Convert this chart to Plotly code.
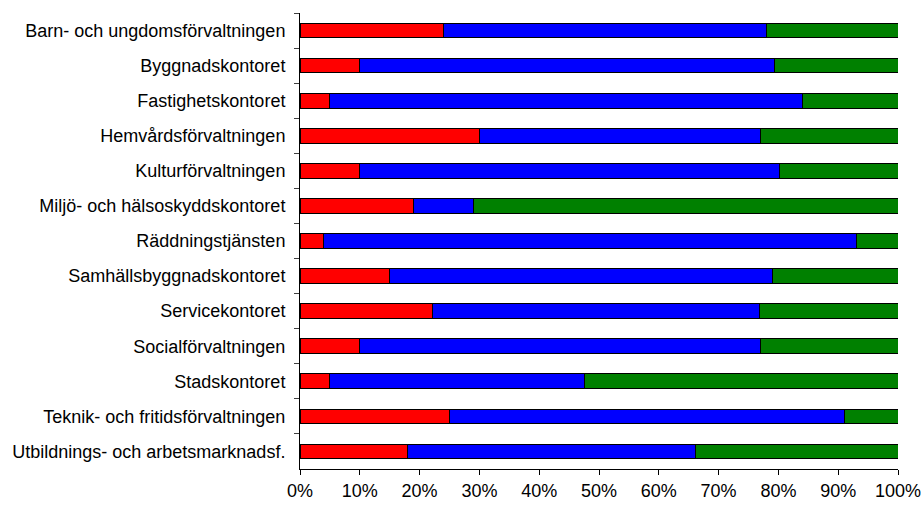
import plotly.graph_objects as go

categories = [
    "Barn- och ungdomsförvaltningen",
    "Byggnadskontoret",
    "Fastighetskontoret",
    "Hemvårdsförvaltningen",
    "Kulturförvaltningen",
    "Miljö- och hälsoskyddskontoret",
    "Räddningstjänsten",
    "Samhällsbyggnadskontoret",
    "Servicekontoret",
    "Socialförvaltningen",
    "Stadskontoret",
    "Teknik- och fritidsförvaltningen",
    "Utbildnings- och arbetsmarknadsf.",
]
red_vals = [24, 10, 5, 30, 10, 19, 4, 15, 22.2, 10, 5, 25, 18]
blue_vals = [54, 69.4, 79, 47, 70.2, 10, 89.1, 64, 54.7, 67, 42.5, 66.1, 48.1]
green_vals = [22, 20.6, 16, 23, 19.8, 71, 6.9, 21, 23.1, 23, 52.5, 8.9, 33.9]
x_ticks = [0, 10, 20, 30, 40, 50, 60, 70, 80, 90, 100]
x_tick_text = [f"{v}%" for v in x_ticks]

fig = go.Figure()
for vals, col in [(red_vals, "#ff0000"), (blue_vals, "#0000ff"), (green_vals, "#008000")]:
    fig.add_trace(go.Bar(
        y=categories, x=vals, orientation="h",
        marker=dict(color=col, line=dict(color="black", width=1)),
        width=0.42, showlegend=False, hoverinfo="skip",
    ))

fig.update_layout(
    barmode="stack",
    width=923, height=506,
    margin=dict(l=299.5, r=25, t=13, b=37, pad=0),
    paper_bgcolor="white", plot_bgcolor="white",
    font=dict(family="Liberation Sans, Arial, sans-serif", size=18, color="black"),
)
fig.update_xaxes(
    range=[0, 100], tickvals=x_ticks, ticktext=x_tick_text,
    showgrid=False, zeroline=False, automargin=False,
    showline=True, linecolor="black", linewidth=1,
    ticks="outside", ticklen=5, tickcolor="black",
)
fig.update_yaxes(
    autorange="reversed", showgrid=False, zeroline=False, automargin=False,
    showline=True, linecolor="black", linewidth=1,
    ticks="outside", ticklen=5, tickcolor="#404040", tickson="boundaries",
    ticklabelstandoff=10,
)
fig.write_html("out.html")
